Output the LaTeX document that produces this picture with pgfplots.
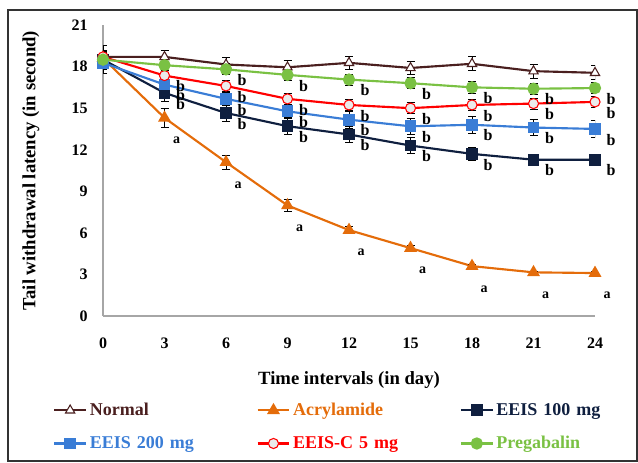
\documentclass[border=0pt]{standalone}
\usepackage{pgfplots}
\pgfplotsset{compat=1.18}
\usepackage{fontspec}
\setmainfont{Liberation Serif}
\definecolor{cnorm}{HTML}{4A1F1F}
\definecolor{cacr}{HTML}{E46C0A}
\definecolor{c100}{HTML}{0F1F3F}
\definecolor{c200}{HTML}{3A7DD6}
\definecolor{cc5}{HTML}{FF0000}
\definecolor{cpre}{HTML}{7AC143}
\begin{document}
\begin{tikzpicture}
\useasboundingbox (0pt,0pt) rectangle (478.5pt,346.5pt);
\draw[line width=1.3pt, black!80] (6pt,0.75pt) rectangle (477.75pt,339pt);
\begin{axis}[
  at={(77.25pt,109.5pt)}, anchor=south west,
  scale only axis, width=369pt, height=218.25pt,
  xmin=0, xmax=24, ymin=0, ymax=21,
  xtick={0,3,...,24}, ytick={0,3,...,21},
  axis lines*=left,
  axis line style={gray!70, line width=0.8pt},
  major tick length=0pt,
  font=\bfseries,
  /pgf/number format/assume math mode=true,
  tick label style={font=\bfseries\fontsize{12}{14}\selectfont},
  xticklabel style={yshift=-13pt},
  yticklabel style={xshift=-8pt},
  xlabel={Time intervals (in day)},
  ylabel={Tail withdrawal latency (in second)},
  label style={font=\bfseries\fontsize{14}{16}\selectfont},
  xlabel style={at={(axis description cs:0.5,0)}, anchor=center, yshift=-48pt},
  ylabel style={at={(axis description cs:0,0.5)}, anchor=center, yshift=54pt},
  every axis plot/.append style={line width=1.6pt},
  error bars/y dir=both, error bars/y explicit,
  error bars/error bar style={black, line width=0.6pt},
  error bars/error mark options={rotate=90, black, mark size=3pt, line width=0.6pt},
  legend columns=3,
  legend style={at={(axis description cs:-0.11,-0.28)}, anchor=north west,
    draw=none, fill=none, font=\bfseries\fontsize{13.5}{15}\selectfont,
    /tikz/every even column/.append style={column sep=0pt},
    row sep=10pt,
    nodes={text width=123pt, align=left, inner sep=2pt}},
  legend image code/.code={\draw[mark repeat=2,mark phase=2] plot coordinates {(0cm,0cm) (0.42cm,0cm) (0.84cm,0cm)};},
  bnode/.style={nodes near coords, point meta=explicit symbolic,
    every node near coord/.append style={anchor=center, xshift=12pt, yshift=-8pt,
      text=black, font=\bfseries\fontsize{12}{14}\selectfont}},
  anode/.style={nodes near coords, point meta=explicit symbolic,
    every node near coord/.append style={anchor=center, xshift=9pt, yshift=-17pt,
      text=black, font=\bfseries\fontsize{10.5}{12}\selectfont}},
]
% Normal
\addplot[cnorm, mark=triangle*, mark size=4pt, mark options={fill=white, line width=0.8pt}]
  table[x=x, y=y, y error=e] {
x y e
0 18.7 0.5
3 18.7 0.5
6 18.15 0.5
9 17.95 0.5
12 18.27 0.5
15 17.9 0.5
18 18.2 0.5
21 17.67 0.5
24 17.55 0.5
};
\addlegendentry{\textcolor{cnorm}{Normal}}
% Acrylamide
\addplot[cacr, mark=triangle*, mark size=4pt, anode]
  table[x=x, y=y, y error=e, meta=m] {
x y e m
0 18.6 0.4 {}
3 14.3 0.7 a
6 11.1 0.5 a
9 7.98 0.4 a
12 6.2 0.25 a
15 4.9 0.2 a
18 3.6 0.15 a
21 3.15 0.1 a
24 3.1 0.1 a
};
\addlegendentry{\textcolor{cacr}{Acrylamide}}
% EEIS 100 mg
\addplot[c100, mark=square*, mark size=3.6pt, bnode]
  table[x=x, y=y, y error=e, meta=m] {
x y e m
0 18.5 1.0 {}
3 16.1 0.6 b
6 14.65 0.6 b
9 13.7 0.6 b
12 13.1 0.6 b
15 12.3 0.6 b
18 11.7 0.5 b
21 11.28 0.4 b
24 11.28 0.4 b
};
\addlegendentry{\textcolor{c100}{EEIS 100 mg}}
% EEIS 200 mg
\addplot[c200, mark=square*, mark size=3.6pt, bnode]
  table[x=x, y=y, y error=e, meta=m] {
x y e m
0 18.27 0.5 {}
3 16.7 0.5 b
6 15.67 0.5 b
9 14.77 0.5 b
12 14.17 0.6 b
15 13.69 0.6 b
18 13.8 0.6 b
21 13.6 0.6 b
24 13.5 0.6 b
};
\addlegendentry{\textcolor{c200}{EEIS 200 mg}}
% EEIS-C 5 mg
\addplot[cc5, mark=*, mark size=3.8pt, mark options={fill=white!92!black, line width=0.8pt}, bnode]
  table[x=x, y=y, y error=e, meta=m] {
x y e m
0 18.7 0.4 {}
3 17.35 0.4 b
6 16.6 0.4 b
9 15.67 0.4 b
12 15.23 0.4 b
15 15.0 0.4 b
18 15.23 0.4 b
21 15.33 0.4 b
24 15.45 0.4 b
};
\addlegendentry{\textcolor{cc5}{EEIS-C 5 mg}}
% Pregabalin
\addplot[cpre, mark=*, mark size=3.8pt, bnode]
  table[x=x, y=y, y error=e, meta=m] {
x y e m
0 18.5 0.4 {}
3 18.1 0.4 {}
6 17.8 0.4 b
9 17.4 0.4 b
12 17.06 0.4 b
15 16.8 0.4 b
18 16.5 0.4 b
21 16.4 0.4 b
24 16.45 0.4 b
};
\addlegendentry{\textcolor{cpre}{Pregabalin}}
\end{axis}
\end{tikzpicture}
\end{document}
